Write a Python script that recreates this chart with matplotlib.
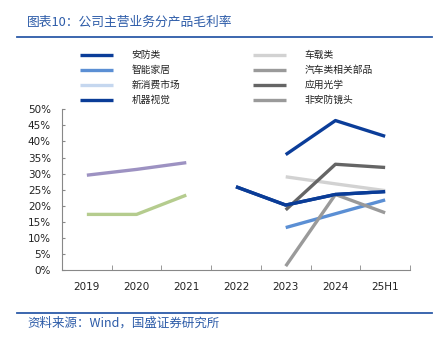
import numpy as np
import matplotlib
matplotlib.use('Agg')
import matplotlib.pyplot as plt
from matplotlib.ticker import FixedLocator, PercentFormatter

plt.rcParams['font.family'] = ['DejaVu Sans', 'Noto Sans CJK SC']

years = ['2019', '2020', '2021', '2022', '2023', '2024', '25H1']
nan = np.nan

# margins per product line (fraction)
anfang = [nan, nan, nan, nan, 0.359, 0.465, 0.416]
zhineng_jiaju = [nan, nan, nan, nan, 0.132, 0.175, 0.218]
xin_xiaofei = [nan, nan, nan, nan, nan, nan, nan]
jiqi_shijue = [nan, nan, nan, 0.259, 0.202, 0.235, 0.244]
chezai = [nan, nan, nan, nan, 0.290, 0.268, 0.247]
qiche_bupin = [nan, nan, nan, nan, nan, nan, nan]
yingyong_guangxue = [nan, nan, nan, nan, 0.187, 0.329, 0.319]
fei_anfang_jingtou = [nan, nan, nan, nan, 0.012, 0.235, 0.178]
# early series, not named in the legend
early_a = [0.295, 0.313, 0.334, nan, nan, nan, nan]
early_b = [0.173, 0.173, 0.233, nan, nan, nan, nan]

series = [
    ('安防类', anfang, '#0b3d99'),
    ('智能家居', zhineng_jiaju, '#5b8fd4'),
    ('新消费市场', xin_xiaofei, '#c5d7ef'),
    ('机器视觉', jiqi_shijue, '#0a3c97'),
    ('车载类', chezai, '#d2d2d2'),
    ('汽车类相关部品', qiche_bupin, '#9a9a9a'),
    ('应用光学', yingyong_guangxue, '#656565'),
    ('非安防镜头', fei_anfang_jingtou, '#9a9a9a'),
]

blue = '#2c5ba8'
fig = plt.figure(figsize=(4.43, 3.39), dpi=100)
ax = fig.add_axes([62/443, 1-270/339, 348/443, (270-109.3)/339])

x = np.arange(len(years))
lw = 2.4
ax.plot(x, early_a, color='#9d92c2', lw=lw, solid_capstyle='butt')
ax.plot(x, early_b, color='#b5cc8e', lw=lw, solid_capstyle='butt')
handles = []
for name, vals, c in series:
    h, = ax.plot(x, vals, color=c, lw=lw, label=name, solid_capstyle='butt')
    handles.append(h)
# redraw so overlapping order looks like the picture
ax.plot(x, jiqi_shijue, color='#0a3c97', lw=lw, solid_capstyle='butt')

ax.set_xlim(-0.5, len(years)-0.5)
ax.set_ylim(0, 0.5)
ax.yaxis.set_major_locator(FixedLocator(np.arange(0, 0.51, 0.05)))
ax.yaxis.set_major_formatter(PercentFormatter(1.0, decimals=0))
ax.set_xticks(x)
ax.set_xticklabels(years)
ax.xaxis.set_minor_locator(FixedLocator(np.arange(-0.5, len(years), 1)))
ax.tick_params(axis='x', which='major', length=0, pad=9, labelsize=7.5, colors='#222222')
ax.tick_params(axis='x', which='minor', direction='in', length=3.5, color='#888888')
ax.tick_params(axis='y', direction='in', length=2.5, color='#888888', labelsize=7.5, pad=8)
for lab in ax.get_yticklabels():
    lab.set_color('#222222')
for s in ['top', 'right']:
    ax.spines[s].set_visible(False)
for s in ['left', 'bottom']:
    ax.spines[s].set_color('#888888')
    ax.spines[s].set_linewidth(0.8)

leg = fig.legend(handles=handles, ncol=2, loc='upper left',
                 bbox_to_anchor=(80/443, 1-50/339), frameon=False,
                 prop={'family': 'Noto Sans CJK SC', 'size': 7},
                 handlelength=3.4, handletextpad=1.9, columnspacing=7.5,
                 labelspacing=0.52, borderpad=0, borderaxespad=0)
for t in leg.get_texts():
    t.set_color('#222222')

fig.text(27/443, 1-22/339, '图表10：公司主营业务分产品毛利率', color=blue,
         fontsize=9.2, family=['Noto Sans CJK SC'], va='center', ha='left')
fig.add_artist(plt.Line2D([17/443, 432/443], [1-37/339, 1-37/339], color=blue, lw=1.3))
fig.add_artist(plt.Line2D([17/443, 432/443], [1-312.5/339, 1-312.5/339], color=blue, lw=1.3))
fig.text(27/443, 1-323/339, '资料来源：Wind，国盛证券研究所', color=blue,
         fontsize=9, family=['Noto Sans CJK SC'], va='center', ha='left')

fig.savefig('out.png', dpi=100)
